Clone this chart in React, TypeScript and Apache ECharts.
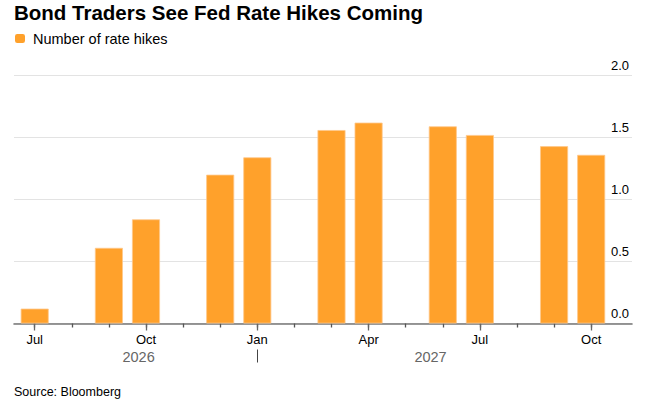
import React, { useEffect, useRef } from "react";
import * as echarts from "echarts";

const months = [
  "Jul 2026", "Aug 2026", "Sep 2026", "Oct 2026", "Nov 2026", "Dec 2026",
  "Jan 2027", "Feb 2027", "Mar 2027", "Apr 2027", "May 2027", "Jun 2027",
  "Jul 2027", "Aug 2027", "Sep 2027", "Oct 2027",
];
const hikeMonths = [
  "Jul 2026", "Sep 2026", "Oct 2026", "Dec 2026", "Jan 2027", "Mar 2027",
  "Apr 2027", "Jun 2027", "Jul 2027", "Sep 2027", "Oct 2027",
];
const hikes = [0.12, 0.61, 0.84, 1.2, 1.34, 1.56, 1.62, 1.59, 1.52, 1.43, 1.36];

const tickMonths = ["Jul 2026", "Oct 2026", "Jan 2027", "Apr 2027", "Jul 2027", "Oct 2027"];
const tickLabels = ["Jul", "Oct", "Jan", "Apr", "Jul", "Oct"];
const yearLabels = ["2026", "2027"];
const yearLabelPos = [2.8, 10.67];
const yearDivider = ["Jan 2027"];

const FONT = "'Liberation Sans', Arial, Helvetica, sans-serif";

export default function App() {
  const ref = useRef<HTMLDivElement>(null);
  useEffect(() => {
    if (!ref.current) return;
    const chart = echarts.init(ref.current, undefined, { renderer: "svg" });
    const monthIdx = months.map((_, i) => i);
    const quarterIdx = tickMonths.map((m) => months.indexOf(m));
    const dividerIdx = yearDivider.map((m) => months.indexOf(m));
    const xMin = -0.558;
    const xMax = 16.1;
    const data = hikeMonths.map((m, i) => [months.indexOf(m), hikes[i]]);

    const baseX = {
      type: "value",
      min: xMin,
      max: xMax,
      position: "bottom",
      splitLine: { show: false },
    };

    chart.setOption({
      animation: false,
      textStyle: { fontFamily: FONT },
      title: [
        {
          text: "Bond Traders See Fed Rate Hikes Coming",
          left: 14,
          top: 2,
          padding: 0,
          textStyle: { fontSize: 20.5, fontWeight: "bold", color: "#000", fontFamily: FONT },
        },
        {
          text: "Source: Bloomberg",
          left: 14,
          top: 385,
          padding: 0,
          textStyle: { fontSize: 12.5, fontWeight: "normal", color: "#000", fontFamily: FONT },
        },
      ],
      legend: {
        left: 15,
        top: 31,
        padding: 0,
        icon: "roundRect",
        itemWidth: 10,
        itemHeight: 9,
        itemStyle: { borderWidth: 0 },
        textStyle: { fontSize: 14.5, color: "#000", fontFamily: FONT, padding: [0, 0, 0, 3] },
        data: ["Number of rate hikes"],
      },
      grid: { left: 14, right: 39, top: 75.5, bottom: 86.5, containLabel: false },
      xAxis: [
        {
          ...baseX,
          axisLine: { show: true, onZero: false, lineStyle: { color: "#777", width: 1.6 } },
          axisTick: { show: true, customValues: monthIdx, length: 4, lineStyle: { color: "#555", width: 1.3 } },
          axisLabel: { show: false },
        },
        {
          ...baseX,
          axisLine: { show: false },
          axisTick: { show: true, customValues: quarterIdx, length: 7, lineStyle: { color: "#666", width: 1.3 } },
          axisLabel: {
            show: true,
            customValues: quarterIdx,
            formatter: (v: number) => {
              const k = quarterIdx.indexOf(Math.round(v));
              return k >= 0 ? tickLabels[k] : "";
            },
            margin: 9,
            fontSize: 13,
            color: "#000",
            fontFamily: FONT,
          },
        },
        {
          ...baseX,
          offset: 26,
          axisLine: { show: false },
          axisTick: { show: true, customValues: dividerIdx, length: 13, lineStyle: { color: "#444", width: 1 } },
          axisLabel: {
            show: true,
            customValues: yearLabelPos,
            formatter: (v: number) => {
              let best = 0;
              yearLabelPos.forEach((p, i) => {
                if (Math.abs(p - v) < Math.abs(yearLabelPos[best] - v)) best = i;
              });
              return yearLabels[best];
            },
            margin: 0,
            fontSize: 14.5,
            color: "#666",
            fontFamily: FONT,
          },
        },
      ],
      yAxis: {
        type: "value",
        position: "right",
        min: 0,
        max: 2,
        interval: 0.5,
        axisLine: { show: false },
        axisTick: { show: false },
        splitLine: { show: true, lineStyle: { color: "#e3e3e3", width: 1.2 } },
        axisLabel: {
          inside: true,
          formatter: (v: number) => v.toFixed(1),
          fontSize: 13,
          color: "#000",
          verticalAlign: "bottom",
          margin: 3,
          padding: [0, 0, 4, 0],
          fontFamily: FONT,
        },
      },
      series: [
        {
          type: "bar",
          name: "Number of rate hikes",
          xAxisIndex: 0,
          yAxisIndex: 0,
          data,
          barWidth: 28,
          itemStyle: { color: "#FFA12B", borderColor: "#FFC88A", borderWidth: 0.8 },
        },
      ],
    });
    return () => chart.dispose();
  }, []);
  return (
    <div
      ref={ref}
      style={{ position: "absolute", left: 0, top: 0, width: 671, height: 410 }}
    />
  );
}
